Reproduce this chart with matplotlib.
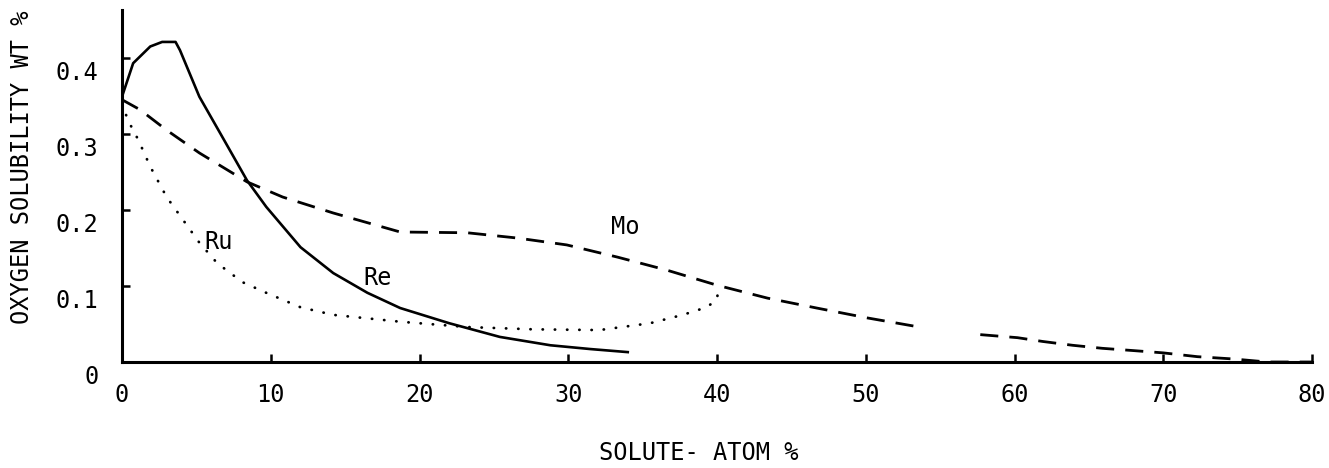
import numpy as np
import matplotlib
matplotlib.use("Agg")
import matplotlib.pyplot as plt
from matplotlib.transforms import ScaledTranslation

# solute atom % vs oxygen solubility wt %
re_x = [0, 0.75, 1.9, 2.7, 3.6, 3.9, 5.2, 6.6, 8.4, 9.7, 12.0, 14.2, 16.5, 18.7,
        22.0, 25.4, 28.8, 31.5, 34.0]
re_y = [0.349, 0.393, 0.415, 0.421, 0.421, 0.41, 0.349, 0.301, 0.239, 0.204,
        0.151, 0.117, 0.091, 0.071, 0.051, 0.033, 0.022, 0.017, 0.013]

mo_x = [0, 1.2, 3.0, 5.2, 8.4, 10.8, 14.2, 18.7, 23.2, 26.6, 29.9, 33.3, 36.6,
        40.0, 43.4, 46.7, 50.1, 53.6, np.nan, 57.7, 60.2, 61.9, 63.9, 65.9,
        68.0, 70.0, 72.3, 74.7, 77.0, 80.0]
mo_y = [0.345, 0.332, 0.305, 0.275, 0.237, 0.217, 0.196, 0.171, 0.170, 0.163,
        0.154, 0.138, 0.121, 0.101, 0.084, 0.071, 0.058, 0.046, np.nan, 0.036,
        0.032, 0.027, 0.022, 0.018, 0.015, 0.012, 0.007, 0.004, 0.0, 0.0]

ru_x = [0, 0.4, 1.1, 1.9, 3.0, 4.1, 5.2, 6.4, 8.1, 9.7, 12.0, 14.2, 18.7, 23.2,
        27.6, 32.1, 35.5, 37.7, 39.3, 40.0, 40.1]
ru_y = [0.34, 0.318, 0.292, 0.257, 0.217, 0.187, 0.157, 0.130, 0.105, 0.091,
        0.072, 0.062, 0.053, 0.046, 0.043, 0.042, 0.051, 0.062, 0.072, 0.082,
        0.099]

x_ticks = [0, 10, 20, 30, 40, 50, 60, 70, 80]
y_ticks = [0, 0.1, 0.2, 0.3, 0.4]
y_labels = ['0', '0.1', '0.2', '0.3', '0.4']

plt.rcParams['font.family'] = ['DejaVu Sans Mono']

fig = plt.figure(figsize=(13.29, 4.68), dpi=100)
ax = fig.add_axes([122/1329, 1 - 362/468, (1312-122)/1329, (362-10)/468])

ax.plot(re_x, re_y, '-', color='black', lw=1.9)
ax.plot(mo_x, mo_y, color='black', lw=2.0, dashes=(6.5, 4))
ax.plot(ru_x, ru_y, color='black', lw=2.0, dashes=(0.1, 4.3),
        dash_capstyle='round')

ax.text(6.5, 0.158, 'Ru', fontsize=17, ha='center', va='center')
ax.text(17.2, 0.110, 'Re', fontsize=17, ha='center', va='center')
ax.text(33.8, 0.178, 'Mo', fontsize=17, ha='center', va='center')

ax.set_xlim(0, 80)
ax.set_ylim(0, 0.463)
ax.spines['top'].set_visible(False)
ax.spines['right'].set_visible(False)
ax.spines['left'].set_linewidth(2.2)
ax.spines['bottom'].set_linewidth(2.2)

ax.set_xticks(x_ticks)
ax.set_xticklabels([str(v) for v in x_ticks])
ax.set_yticks(y_ticks)
ax.set_yticklabels(y_labels)
ax.tick_params(axis='x', direction='in', length=6, width=1.8, pad=15, labelsize=17)
ax.tick_params(axis='y', direction='in', length=6, width=1.8, pad=17, labelsize=17)

# y tick labels sit a little below their marks in the original
off = ScaledTranslation(0, -13/100, fig.dpi_scale_trans)
for lab in ax.get_yticklabels():
    lab.set_transform(lab.get_transform() + off)

fig.text(699/1329, 1 - 453/468, 'SOLUTE- ATOM %', fontsize=17,
         ha='center', va='center')
fig.text(22/1329, 1 - 167/468, 'OXYGEN SOLUBILITY WT %', fontsize=17,
         ha='center', va='center', rotation=90)

fig.savefig('out.png', dpi=100)
